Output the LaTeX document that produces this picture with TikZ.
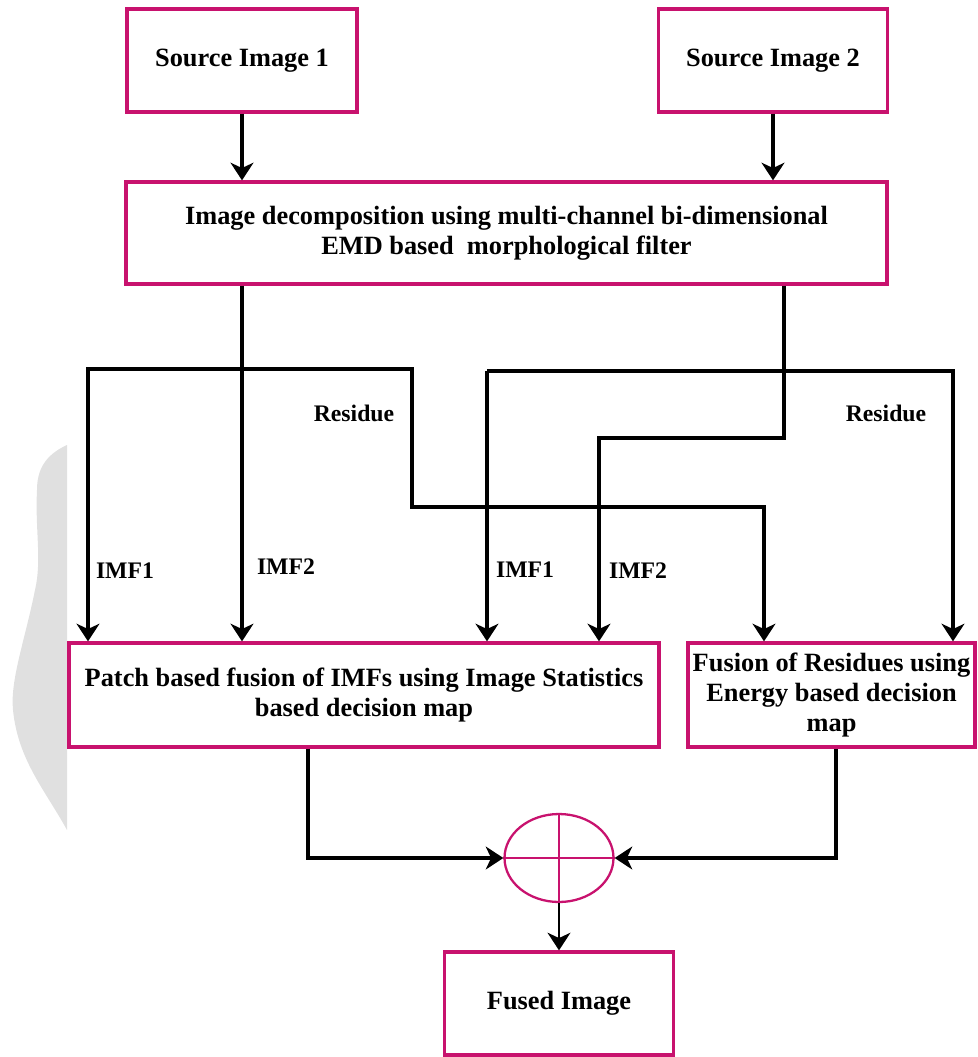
\documentclass[tikz,border=0pt]{standalone}
\usepackage{fontspec}
\setmainfont{Liberation Serif}
\usetikzlibrary{arrows.meta,shapes.geometric}
\definecolor{boxpink}{RGB}{200,18,110}

\begin{document}
\begin{tikzpicture}[
    x = 0.02cm,
    y = -0.02cm,
    >={Stealth[length=10pt,width=13pt,inset=3pt]},
    box/.style = {rectangle, draw=boxpink, line width=1.9pt, align=center,
    font=\fontsize{15}{17}\selectfont\bfseries, inner sep=0pt},
    lbl/.style = {font=\fontsize{13.5}{16}\selectfont\bfseries, inner sep=0pt},
    arr/.style = {->, line width=1.9pt},
]
\useasboundingbox (0,0) rectangle (977,1057);

% faint shape at the left edge
\fill[black!12] (67,445) .. controls (45,455) and (37,470) .. (37,490)
    .. controls (35,530) and (42,560) .. (35,590)
    .. controls (25,640) and (10,680) .. (13,710)
    .. controls (18,760) and (45,790) .. (67,830) -- cycle;

\node[box, minimum width=4.6cm, minimum height=2.06cm] (src_1) at (242,60.5) {Source Image 1};
\node[box, minimum width=4.58cm, minimum height=2.06cm] (src_2) at (773,60.5) {Source Image 2};
\node[box, minimum width=15.22cm, minimum height=2.04cm] (decomp) at (506.5,233)
    {Image decomposition using multi-channel bi-dimensional\\EMD based\ \ morphological filter};
\node[box, minimum width=11.8cm, minimum height=2.08cm] (patch_fus) at (364,695)
    {Patch based fusion of IMFs using Image Statistics\\based decision map};
\node[box, minimum width=5.74cm, minimum height=2.08cm] (res_fus) at (831.5,695)
    {Fusion of Residues using\\Energy based decision\\map};
\node[ellipse, draw=boxpink, line width=1.3pt, minimum width=2.18cm,
    minimum height=1.76cm, inner sep=0pt] (sum) at (559,858) {};
\node[box, minimum width=4.58cm, minimum height=2.06cm] (fused) at (559,1003.5) {Fused Image};

\draw[boxpink, line width=1.3pt] (sum.north) -- (sum.south) (sum.west) -- (sum.east);

% branch points
\coordinate (j_l) at (242,369);
\coordinate (k_l) at (88,369);
\coordinate (r_l) at (412,507);
\coordinate (r_l2) at (764,507);
\coordinate (j_r) at (784,371);
\coordinate (k_r) at (487,371);
\coordinate (r_r) at (953,371);
\coordinate (m_r) at (784,438);
\coordinate (m_r2) at (599,438);
\coordinate (b_l) at (308,858);
\coordinate (b_r) at (836,858);

\draw[arr] (src_1) -- (src_1 |- decomp.north);
\draw[arr] (src_2) -- (src_2 |- decomp.north);

\draw[arr] (decomp.south -| j_l) -- (patch_fus.north -| j_l);
\draw[arr] (j_l) -| (patch_fus.north -| k_l);
\draw[arr] (j_l) -| (r_l) -| (res_fus.north -| r_l2);
\draw[arr] (decomp.south -| j_r) -- (m_r) -| (patch_fus.north -| m_r2);
\draw[arr] (k_r) -- (r_r) -- (res_fus.north -| r_r);
\draw[arr] (k_r) -- (patch_fus.north -| k_r);

\draw[arr] (patch_fus.south -| b_l) |- (sum.west);
\draw[arr] (res_fus.south -| b_r) |- (sum.east);
\draw[arr, line width=1.5pt] (sum.south) -- (fused.north);

\node[lbl] (lbl_res_l) at (354,413) {Residue};
\node[lbl] (lbl_imf1_l) at (125,571) {IMF1};
\node[lbl] (lbl_imf2_l) at (286,567) {IMF2};
\node[lbl] (lbl_imf1_r) at (525,570) {IMF1};
\node[lbl] (lbl_imf2_r) at (638,571) {IMF2};
\node[lbl] (lbl_res_r) at (886,413) {Residue};

\end{tikzpicture}
\end{document}
